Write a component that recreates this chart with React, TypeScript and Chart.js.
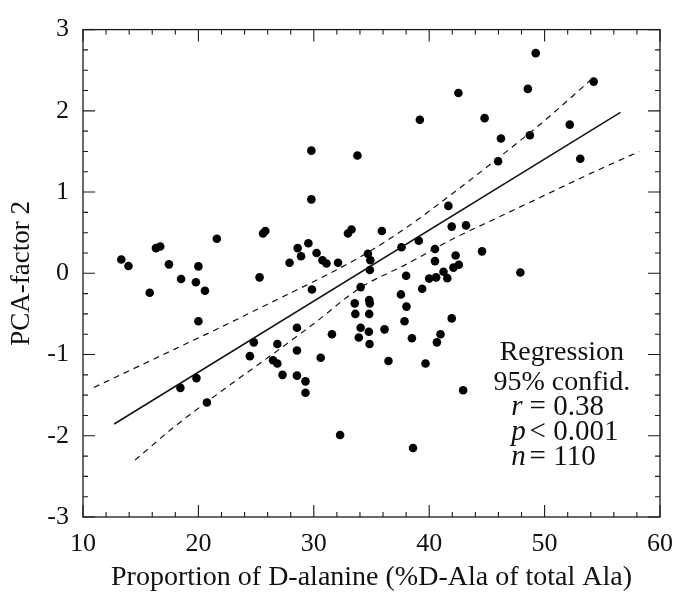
import React, { useEffect, useRef } from "react";
import { Chart, registerables } from "chart.js";

Chart.register(...registerables);

// ---- data ----
const pointX = [
  13.32, 13.94, 15.78, 16.32, 16.69, 17.45, 18.5, 18.44, 19.78, 20.0,
  20.57, 20.0, 19.83, 20.74, 21.6, 24.46, 24.8, 25.3, 25.6, 25.8,
  26.47, 26.84, 26.84, 27.29, 27.9, 28.54, 28.54, 28.54, 28.6, 28.9,
  29.28, 29.28, 29.53, 29.79, 29.79, 29.84, 30.24, 30.6, 30.75, 31.1,
  31.57, 32.1, 32.28, 32.96, 33.27, 33.55, 33.6, 33.78, 34.06, 34.06,
  33.9, 34.69, 34.9, 34.86, 34.8, 34.85, 34.8, 34.77, 34.83, 35.9,
  36.13, 36.47, 37.6, 37.55, 38.0, 38.03, 37.86, 38.5, 38.6, 39.19,
  39.1, 39.39, 39.68, 40.0, 40.5, 40.5, 40.6, 40.67, 40.98, 41.24,
  41.57, 41.66, 41.95, 41.95, 42.1, 42.29, 42.57, 42.53, 42.94, 43.19,
  44.58, 44.8, 45.97, 46.22, 47.9, 48.55, 48.72, 49.23, 52.18, 53.09,
  54.25,
];
const pointY = [
  0.17, 0.09, -0.24, 0.31, 0.33, 0.11, -0.07, -1.41, -0.11, 0.085,
  -0.215, -0.59, -1.29, -1.59, 0.425, -1.02, -0.85, -0.05, 0.49, 0.52,
  -1.07, -1.11, -0.87, -1.25, 0.13, -0.67, -0.95, -1.26, 0.31, 0.21,
  -1.33, -1.47, 0.37, 1.51, 0.91, -0.2, 0.25, -1.04, 0.16, 0.12,
  -0.75, 0.13, -1.99, 0.49, 0.54, -0.37, -0.5, 1.45, -0.17, -0.67,
  -0.79, 0.24, 0.16, 0.04, -0.33, -0.37, -0.5, -0.72, -0.87, 0.52,
  -0.69, -1.08, 0.32, -0.26, -0.03, -0.41, -0.59, -0.8, -2.15, 1.89,
  0.4, -0.19, -1.11, -0.065, 0.3, 0.15, -0.05, -0.85, -0.75, 0.02,
  -0.06, 0.83, 0.575, -0.555, 0.07, 0.22, 0.105, 2.22, -1.44, 0.59,
  0.27, 1.91, 1.38, 1.66, 0.01, 2.27, 1.7, 2.71, 1.83, 1.41,
  2.36,
];

const regressionX = [12.7, 56.57];
const regressionY = [-1.855, 1.98];

const upperBandX = [10.94, 14, 18, 22, 26, 30, 34, 38, 42, 46, 50, 54.4];
const upperBandY = [-1.405, -1.2, -0.93, -0.66, -0.38, -0.1, 0.2, 0.56, 0.98, 1.42, 1.88, 2.43];

const lowerBandX = [14.5, 18, 22, 26, 30, 34, 38, 42, 46, 50, 54, 58.2];
const lowerBandY = [-2.3, -1.88, -1.45, -1.04, -0.62, -0.18, 0.11, 0.42, 0.69, 0.96, 1.23, 1.5];

const xTitle = "Proportion of D-alanine (%D-Ala of total Ala)";
const yTitle = "PCA-factor 2";
const legendLines = ["Regression", "95% confid."];
const statLetters = ["r", "p", "n"];
const statRest = ["= 0.38", "< 0.001", "= 110"];

const X_MIN = 10, X_MAX = 60, X_MAJOR = 10, X_MINOR = 2;
const Y_MIN = -3, Y_MAX = 3, Y_MAJOR = 1, Y_MINOR = 0.25;

const FONT = "'Liberation Serif', 'DejaVu Serif', serif";

const zip = (xs: number[], ys: number[]) => xs.map((x, i) => ({ x, y: ys[i] }));

const overlayPlugin = {
  id: "overlay",
  afterDraw(chart: any) {
    const { ctx, chartArea: a, scales } = chart;
    const xs = scales.x, ys = scales.y;
    ctx.save();
    ctx.strokeStyle = "#1a1a1a";
    ctx.lineWidth = 1.3;
    ctx.strokeRect(a.left, a.top, a.right - a.left, a.bottom - a.top);
    ctx.lineWidth = 1.1;
    ctx.beginPath();
    const nx = Math.round((X_MAX - X_MIN) / X_MINOR);
    for (let i = 0; i <= nx; i++) {
      const v = X_MIN + i * X_MINOR;
      const px = xs.getPixelForValue(v);
      const major = Math.abs(v % X_MAJOR) < 1e-9;
      const L = major ? 12 : 5;
      ctx.moveTo(px, a.bottom); ctx.lineTo(px, a.bottom - L);
      ctx.moveTo(px, a.top); ctx.lineTo(px, a.top + L);
    }
    const ny = Math.round((Y_MAX - Y_MIN) / Y_MINOR);
    for (let i = 0; i <= ny; i++) {
      const v = Y_MIN + i * Y_MINOR;
      const py = ys.getPixelForValue(v);
      const major = Math.abs((v - Y_MIN) % Y_MAJOR) < 1e-9;
      const L = major ? 12 : 5;
      ctx.moveTo(a.left, py); ctx.lineTo(a.left + L, py);
      ctx.moveTo(a.right, py); ctx.lineTo(a.right - L, py);
    }
    ctx.stroke();

    // legend / statistics text
    ctx.fillStyle = "#111";
    ctx.textBaseline = "alphabetic";
    ctx.font = `28px ${FONT}`;
    ctx.textAlign = "center";
    const cx = xs.getPixelForValue(51.5);
    ctx.fillText(legendLines[0], cx, ys.getPixelForValue(-1.07));
    ctx.fillText(legendLines[1], cx, ys.getPixelForValue(-1.435));
    ctx.textAlign = "left";
    const lx = xs.getPixelForValue(47.1);
    const rx = xs.getPixelForValue(48.7);
    const statY = [-1.75, -2.055, -2.36];
    for (let i = 0; i < statLetters.length; i++) {
      const py = ys.getPixelForValue(statY[i]);
      ctx.font = `italic 29px ${FONT}`;
      ctx.fillText(statLetters[i], lx, py);
      ctx.font = `29px ${FONT}`;
      ctx.fillText(statRest[i], rx, py);
    }
    ctx.restore();
  },
};

export default function App() {
  const ref = useRef<HTMLCanvasElement | null>(null);
  useEffect(() => {
    document.body.style.margin = "0";
    if (!ref.current) return;
    const chart = new Chart(ref.current, {
      type: "scatter",
      data: {
        datasets: [
          {
            type: "line",
            data: zip(regressionX, regressionY),
            borderColor: "#111",
            borderWidth: 1.5,
            pointRadius: 0,
            fill: false,
          },
          {
            type: "line",
            data: zip(upperBandX, upperBandY),
            borderColor: "#111",
            borderWidth: 1.2,
            borderDash: [6, 5],
            pointRadius: 0,
            cubicInterpolationMode: "monotone",
            fill: false,
          },
          {
            type: "line",
            data: zip(lowerBandX, lowerBandY),
            borderColor: "#111",
            borderWidth: 1.2,
            borderDash: [6, 5],
            pointRadius: 0,
            cubicInterpolationMode: "monotone",
            fill: false,
          },
          {
            type: "scatter",
            data: zip(pointX, pointY),
            backgroundColor: "#000",
            borderWidth: 0,
            pointRadius: 4.3,
          },
        ],
      } as any,
      options: {
        responsive: false,
        animation: false,
        layout: { padding: { left: 0, right: 14, top: 23, bottom: 0 } },
        plugins: { legend: { display: false }, tooltip: { enabled: false } },
        scales: {
          x: {
            type: "linear",
            min: X_MIN,
            max: X_MAX,
            grid: { display: false, drawTicks: false },
            border: { display: false },
            ticks: {
              stepSize: X_MAJOR,
              padding: 12,
              color: "#111",
              font: { family: FONT, size: 26 },
              maxRotation: 0,
            },
            title: {
              display: true,
              text: xTitle,
              color: "#111",
              font: { family: FONT, size: 28 },
              padding: { top: 0, bottom: 1 },
            },
            afterFit: (s: any) => { s.height = 78; },
          },
          y: {
            type: "linear",
            min: Y_MIN,
            max: Y_MAX,
            grid: { display: false, drawTicks: false },
            border: { display: false },
            ticks: {
              stepSize: Y_MAJOR,
              padding: 14,
              color: "#111",
              font: { family: FONT, size: 26 },
            },
            title: {
              display: true,
              text: yTitle,
              color: "#111",
              font: { family: FONT, size: 27 },
              padding: { top: 6, bottom: 0 },
            },
            afterFit: (s: any) => { s.width = 83; },
          },
        },
      } as any,
      plugins: [overlayPlugin],
    });
    return () => chart.destroy();
  }, []);
  return <canvas ref={ref} width={685} height={595} />;
}
